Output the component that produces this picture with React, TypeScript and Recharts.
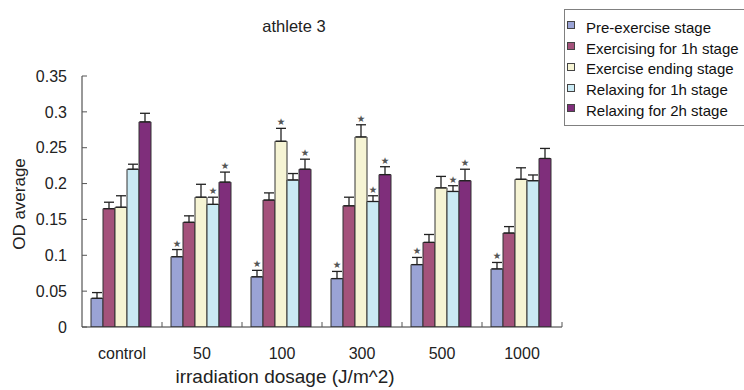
import React from 'react';
import { BarChart, Bar, XAxis, YAxis, ErrorBar, LabelList, Legend } from 'recharts';

const categories = ['control', '50', '100', '300', '500', '1000'];
const yTicks = [0, 0.05, 0.1, 0.15, 0.2, 0.25, 0.3, 0.35];
const yTickLabels = ['0', '0.05', '0.1', '0.15', '0.2', '0.25', '0.3', '0.35'];

const seriesNames = [
  'Pre-exercise stage',
  'Exercising for 1h stage',
  'Exercise ending stage',
  'Relaxing for 1h stage',
  'Relaxing for 2h stage',
];
const seriesColors = ['#9AA3D5', '#A4527B', '#F6F4D4', '#CAEAF4', '#7F2E7B'];

const pre = [0.040, 0.098, 0.070, 0.0675, 0.087, 0.081];
const preErr = [0.008, 0.010, 0.009, 0.010, 0.010, 0.009];
const preStar = [false, true, true, true, true, true];

const ex1h = [0.165, 0.146, 0.177, 0.169, 0.118, 0.131];
const ex1hErr = [0.009, 0.009, 0.010, 0.012, 0.011, 0.009];
const ex1hStar = [false, false, false, false, false, false];

const exEnd = [0.167, 0.181, 0.259, 0.265, 0.194, 0.206];
const exEndErr = [0.016, 0.018, 0.018, 0.017, 0.016, 0.016];
const exEndStar = [false, false, true, true, false, false];

const rel1h = [0.220, 0.171, 0.205, 0.175, 0.189, 0.204];
const rel1hErr = [0.007, 0.010, 0.009, 0.008, 0.008, 0.008];
const rel1hStar = [false, true, false, true, true, false];

const rel2h = [0.286, 0.202, 0.220, 0.2125, 0.204, 0.235];
const rel2hErr = [0.012, 0.014, 0.014, 0.011, 0.016, 0.014];
const rel2hStar = [false, true, true, true, true, false];

const seriesValues = [pre, ex1h, exEnd, rel1h, rel2h];
const seriesErrs = [preErr, ex1hErr, exEndErr, rel1hErr, rel2hErr];
const seriesStars = [preStar, ex1hStar, exEndStar, rel1hStar, rel2hStar];

const data = categories.map((c, i) => {
  const row: any = { name: c };
  seriesValues.forEach((vals, s) => {
    row['v' + s] = vals[i];
    row['e' + s] = [0, seriesErrs[s][i]];
  });
  return row;
});

const WIDTH = 744;
const HEIGHT = 390;
const Y_AXIS_W = 82;
const X_AXIS_H = 30;
const MARGIN = { top: 76, right: 182, bottom: 33, left: 0 };
const PLOT_W = WIDTH - Y_AXIS_W - MARGIN.left - MARGIN.right;
const BAND = PLOT_W / categories.length;
const FONT = '"Liberation Sans", Arial, sans-serif';

const XTick = (props: any) => {
  const { x, y, payload } = props;
  return (
    <g>
      <line x1={x + BAND / 2} x2={x + BAND / 2} y1={y} y2={y - 5} stroke="#555" strokeWidth={1} />
      <text x={x} y={y} dy={32} textAnchor="middle" fill="#222" fontSize={16} fontFamily={FONT}>
        {payload.value}
      </text>
    </g>
  );
};

const makeStar = (s: number) => (props: any) => {
  const { x, y, width, height, index } = props;
  if (!seriesStars[s][index]) return null;
  const v = seriesValues[s][index];
  const errPx = (Number(height) * seriesErrs[s][index]) / v;
  return (
    <text
      x={Number(x) + Number(width) / 2}
      y={Number(y) - errPx - 3}
      textAnchor="middle"
      fontSize={9.5}
      fill="#555"
      fontFamily='"DejaVu Sans", sans-serif'
    >
      ★
    </text>
  );
};

const LegendContent = () => (
  <div
    style={{
      border: '1px solid #808080',
      boxSizing: 'border-box',
      width: 190,
      height: 117,
      paddingTop: 7,
      background: '#fff',
      fontFamily: FONT,
    }}
  >
    {seriesNames.map((n, i) => (
      <div key={n} style={{ display: 'flex', alignItems: 'center', height: 20.75 }}>
        <span
          style={{
            display: 'inline-block',
            width: 6,
            height: 6,
            marginLeft: 2,
            marginTop: -4,
            border: '1px solid #444',
            background: seriesColors[i],
          }}
        />
        <span style={{ marginLeft: 11, fontSize: 15, color: '#111', whiteSpace: 'nowrap' }}>{n}</span>
      </div>
    ))}
  </div>
);

export default function App() {
  return (
    <div style={{ position: 'absolute', left: 0, top: 0, fontFamily: FONT, width: WIDTH, height: HEIGHT, overflow: 'hidden' }}>
      <BarChart
        width={WIDTH}
        height={HEIGHT}
        data={data}
        margin={MARGIN}
        barCategoryGap={9}
        barGap={0}
      >
        <text x={294} y={32} textAnchor="middle" fontSize={16.5} fill="#222" fontFamily={FONT}>
          athlete 3
        </text>
        <text
          x={25}
          y={204}
          transform="rotate(-90 25 204)"
          textAnchor="middle"
          fontSize={17}
          fill="#222"
          fontFamily={FONT}
        >
          OD average
        </text>
        <text x={285} y={383} textAnchor="middle" fontSize={19} fill="#222" fontFamily={FONT}>
          irradiation dosage (J/m^2)
        </text>
        <XAxis
          dataKey="name"
          height={X_AXIS_H}
          tickLine={false}
          tickSize={0}
          tickMargin={0}
          tick={<XTick />}
          axisLine={{ stroke: '#333', strokeWidth: 1 }}
          interval={0}
        />
        <YAxis
          width={Y_AXIS_W}
          domain={[0, 0.35]}
          ticks={yTicks}
          tickFormatter={(v: number) => yTickLabels[yTicks.indexOf(v)] ?? String(v)}
          tickSize={-5}
          tickMargin={20}
          tickLine={{ stroke: '#555' }}
          axisLine={{ stroke: '#333', strokeWidth: 1 }}
          tick={{ fill: '#222', fontSize: 16, fontFamily: FONT }}
          interval={0}
          allowDataOverflow
        />
        <Legend
          layout="horizontal"
          verticalAlign="middle"
          align="center"
          content={<LegendContent />}
          wrapperStyle={{ left: 564, top: 9, width: 190, height: 117 }}
        />
        {seriesNames.map((n, s) => (
          <Bar
            key={n}
            dataKey={'v' + s}
            name={n}
            fill={seriesColors[s]}
            stroke="#333"
            strokeWidth={1}
            isAnimationActive={false}
          >
            <ErrorBar dataKey={'e' + s} width={5} stroke="#222" strokeWidth={1.3} direction="y" />
            <LabelList dataKey={'v' + s} content={makeStar(s)} />
          </Bar>
        ))}
      </BarChart>
    </div>
  );
}
